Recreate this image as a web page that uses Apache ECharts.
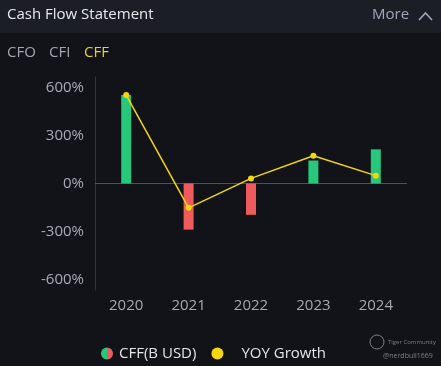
<!DOCTYPE html>
<html><head><meta charset="utf-8">
<script src="https://cdn.jsdelivr.net/npm/echarts@6/dist/echarts.min.js"></script>
<style>html,body{margin:0;padding:0;background:#111318;}#c{width:441px;height:366px;}</style>
</head><body><div id="c"></div>
<script>
const years = ['2020','2021','2022','2023','2024'];
const cffValues = [9.97, -5.20, -3.53, 2.59, 3.85];
const yoyGrowth = [552, -152, 32, 173, 49];
const pctTicks = [-600, -300, 0, 300, 600];
const tabs = ['CFO','CFI','CFF'];

const GREEN = '#27c87b', RED = '#ef5a5c', YELLOW = '#f3d60e';
const FONT = '"Open Sans","Noto Sans",sans-serif';
const chart = echarts.init(document.getElementById('c'));

const tabX = [7, 49, 84];
const graphics = [
  {type:'rect', left:0, top:0, shape:{width:441,height:33}, style:{fill:'#1b1e25'}, z:-1},
  {type:'text', left:7, top:7, style:{text:'Cash Flow Statement', fill:'#e9e9ec', font:'15px '+FONT}},
  {type:'text', left:372, top:7, style:{text:'More', fill:'#9ea6bb', font:'15px '+FONT}},
  {type:'polyline', shape:{points:[[419,20],[425.5,13],[432,20]]}, style:{stroke:'#9ea6bb', lineWidth:1.6, fill:null}},
  {type:'circle', shape:{cx:377, cy:342, r:7}, style:{fill:null, stroke:'#7d7f86', lineWidth:1}},
  {type:'text', left:388, top:339, style:{text:'Tiger Community', fill:'#7d7f86', font:'6px '+FONT}},
  {type:'text', left:383, top:352, style:{text:'@nerdbull1669', fill:'#7d7f86', font:'7px '+FONT}}
];
tabs.forEach((t,i)=>graphics.push({type:'text', left:tabX[i], top:45, style:{text:t, fill: i===2?'#e6d21c':'#a3a6b2', font:'15px '+FONT}}));

chart.setOption({
  backgroundColor:'#111318',
  textStyle:{fontFamily:FONT},
  graphic: graphics,
  grid:{left:95, right:34, top:77, bottom:76},
  legend:{
    top:341, left:96, itemWidth:12, itemHeight:12, itemGap:15,
    textStyle:{color:'#e4e4e7', fontSize:15, fontFamily:FONT},
    data:[
      {name:'CFF(B USD)', icon:'circle', textStyle:{padding:[0,0,0,1]}, itemStyle:{color:new echarts.graphic.LinearGradient(0,0,1,0,[{offset:0,color:GREEN},{offset:0.5,color:GREEN},{offset:0.5,color:RED},{offset:1,color:RED}])}},
      {name:'YOY Growth', icon:'circle', textStyle:{padding:[0,0,0,13]}, itemStyle:{color:YELLOW}}
    ]
  },
  xAxis:{
    type:'category', data:years,
    axisLine:{show:false, onZero:false},
    axisTick:{show:false},
    axisLabel:{color:'#a6a9b3', fontSize:15, margin:8, fontFamily:FONT}
  },
  yAxis:[
    {type:'value', min:-665, max:665,
     axisLine:{show:true, lineStyle:{color:'#33363f'}},
     axisTick:{show:false}, splitLine:{show:false},
     axisLabel:{color:'#a9abb4', fontSize:15, margin:11, customValues:pctTicks, formatter:v=>v+'%'}},
    {type:'value', min:-12, max:12, show:false, splitLine:{show:false}}
  ],
  series:[
    {name:'CFF(B USD)', type:'bar', yAxisIndex:1, barWidth:10, data:cffValues,
     itemStyle:{color:p=>p.value>=0?GREEN:RED}},
    {name:'YOY Growth', type:'line', yAxisIndex:0, data:yoyGrowth, symbol:'circle', symbolSize:6,
     itemStyle:{color:YELLOW}, lineStyle:{color:YELLOW, width:1.5}, z:5,
     markLine:{silent:true, symbol:'none', label:{show:false}, lineStyle:{color:'#4e525c', type:'solid', width:1},
       data:[{yAxis:0}], z:1}}
  ]
});
</script></body></html>
